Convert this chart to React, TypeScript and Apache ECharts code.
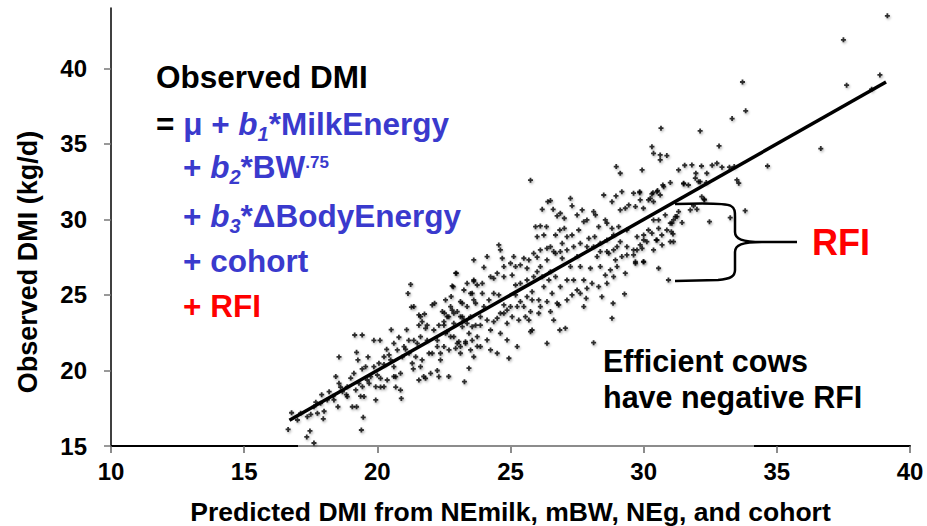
import React, { useEffect, useRef } from 'react';
import * as echarts from 'echarts';

const FONT = '"Liberation Sans", Arial, Helvetica, sans-serif';
const BLUE = '#3a3acd';
const RED = '#ff0000';

const xTicks = [10, 15, 20, 25, 30, 35, 40];
const yTicks = [15, 20, 25, 30, 35, 40];
const xAxisName = 'Predicted DMI from NEmilk, mBW, NEg, and cohort';
const yAxisName = 'Observed DMI (kg/d)';

// regression line (predicted = observed)
const fitLine = [[16.7, 16.7], [39.1, 39.1]];

const outliers = [
  [39.15, 43.48], [37.5, 41.89], [37.62, 38.89], [38.87, 39.57], [38.56, 38.62], [33.71, 39.1],
  [33.83, 37.19], [33.32, 36.68], [30.65, 36.04], [32.12, 35.86], [32.83, 34.87], [36.65, 34.69],
  [34.65, 33.54], [25.75, 32.6], [33.25, 30.12], [33.81, 30.58], [32.47, 29.85],
];

const upperCloud = [
  [30.31, 34.82], [30.37, 34.38], [30.62, 34.27], [30.87, 34.23], [30.62, 33.94], [31.31, 33.28],
  [29.94, 33.28], [28.97, 33.5], [29.12, 33.06], [31.54, 33.59], [31.81, 33.61], [32.17, 33.54],
  [31.96, 33.06], [32.37, 33.06], [32.57, 33.59], [32.75, 33.72], [32.94, 33.46], [33.22, 33.46],
  [33.4, 33.5], [31.94, 32.73], [32.06, 32.5], [32.35, 32.44], [33.5, 32.62], [33.57, 32.4],
  [32.18, 31.51], [32.27, 31.34], [31.5, 32.4], [31.68, 32.28], [31.0, 32.44], [30.72, 32.28],
  [30.75, 32.17], [30.52, 31.91], [30.35, 31.77], [30.5, 31.84], [30.31, 31.69], [30.18, 31.29],
  [29.85, 31.84], [29.62, 31.74], [29.85, 31.77], [29.18, 31.84], [28.96, 31.56], [28.5, 31.62],
  [28.81, 31.18], [27.25, 31.4], [26.5, 31.25], [26.4, 31.18], [26.19, 30.67], [26.6, 30.67],
  [26.75, 30.23], [27.02, 30.08], [27.31, 30.9], [27.5, 30.3], [27.69, 30.63], [28.12, 30.52],
  [28.19, 30.3], [29.12, 30.63], [29.31, 30.74], [29.44, 30.96], [29.69, 30.85], [29.87, 31.29],
  [29.99, 30.74], [30.25, 31.4], [30.37, 31.18], [30.62, 31.62], [31.5, 32.35], [32.12, 32.5],
  [32.28, 31.29], [31.87, 30.9], [31.75, 30.63], [32.0, 30.67], [31.31, 30.52], [31.19, 30.19],
  [31.44, 29.79], [31.06, 29.75], [30.81, 30.3], [30.56, 29.97], [31.25, 30.19], [31.12, 29.97],
  [31.0, 29.75], [26.87, 30.41], [27.87, 29.97],
];

const middleCloud = [
  [26.12, 29.57], [26.35, 29.52], [25.94, 29.52], [26.0, 28.86], [26.25, 28.97], [26.5, 28.2],
  [26.69, 28.97], [26.85, 29.3], [27.02, 29.41], [27.12, 28.86], [27.31, 28.97], [27.56, 29.3],
  [27.75, 29.85], [27.94, 28.75], [28.16, 28.86], [28.31, 29.52], [28.56, 29.97], [28.62, 29.75],
  [28.81, 29.41], [29.06, 29.52], [29.37, 29.3], [29.75, 28.86], [30.0, 28.97], [30.18, 29.3],
  [30.37, 29.97], [30.56, 29.41], [30.68, 28.97], [30.87, 29.3], [30.12, 28.53], [29.87, 28.31],
  [29.62, 27.98], [29.37, 27.65], [29.18, 27.54], [29.99, 27.2], [30.56, 26.77], [30.93, 25.99],
  [29.28, 25.07], [28.85, 24.45], [28.81, 23.46], [28.12, 21.84], [27.06, 22.8], [26.85, 22.68],
  [26.37, 21.8], [25.81, 22.68], [25.25, 21.58], [24.94, 20.81], [24.62, 27.98], [24.56, 28.31],
  [24.12, 27.54], [24.0, 26.83], [24.69, 27.43], [22.97, 26.44], [22.81, 25.6], [25.19, 26.88],
  [25.37, 26.99], [25.5, 27.43], [25.69, 27.32], [26.0, 27.5], [26.12, 26.88], [26.37, 27.32],
  [26.69, 27.76], [26.87, 27.87], [26.94, 27.43], [27.25, 26.88], [27.5, 27.54], [27.62, 26.88],
  [27.75, 25.99], [28.0, 26.77], [28.25, 27.54], [28.37, 26.88], [28.56, 26.32], [28.62, 25.77],
  [28.43, 24.89], [27.84, 24.78], [27.5, 25.33], [27.37, 25.99], [27.12, 25.99], [26.87, 25.55],
  [26.75, 24.45], [26.56, 25.11], [26.25, 25.55], [26.06, 24.67], [25.75, 23.9], [25.81, 24.67],
  [25.5, 24.23], [25.56, 23.56], [25.31, 23.34], [25.06, 23.56], [24.87, 23.12], [25.0, 24.23],
  [24.75, 24.34], [24.62, 23.79], [24.37, 23.23], [24.25, 22.68], [23.87, 23.56], [24.0, 24.23],
  [23.69, 24.45], [23.56, 25.11], [23.37, 25.77], [23.25, 25.33], [23.12, 24.56], [23.0, 23.9],
  [22.75, 24.23], [22.62, 23.56], [22.87, 23.12], [23.19, 22.9], [23.44, 22.46], [23.75, 22.24],
  [23.31, 21.8], [22.94, 21.47], [23.87, 21.58], [24.12, 22.02], [24.62, 22.46], [24.87, 22.02],
  [24.5, 21.14], [26.37, 24.56], [26.62, 23.34], [27.75, 24.23], [28.31, 25.55], [29.31, 26.44],
  [29.0, 26.88], [29.69, 27.1], [29.37, 28.2], [30.37, 27.98], [30.5, 28.64], [31.12, 28.53],
  [31.04, 29.19], [31.1, 29.04], [31.0, 28.53], [30.69, 28.31], [30.47, 28.64], [30.31, 29.09],
  [30.0, 28.64], [29.94, 28.09], [29.75, 27.98], [29.62, 27.65], [29.69, 27.2], [30.0, 27.2],
  [28.94, 27.32], [28.62, 27.87], [28.75, 26.66], [28.87, 26.21],
  [22.56, 24.67], [22.44, 23.9], [22.5, 23.0], [22.56, 22.46], [22.75, 22.24], [22.5, 21.58],
  [22.69, 21.36], [23.06, 21.91], [23.5, 21.36], [23.62, 20.91], [23.12, 21.14], [24.25, 21.36],
  [23.62, 25.99], [23.75, 25.66], [23.94, 25.77], [24.25, 26.21], [24.37, 26.1], [24.5, 26.44],
  [24.75, 26.21], [25.06, 26.32], [25.19, 25.66], [25.37, 25.77], [25.62, 25.99], [25.87, 26.21],
  [26.0, 26.54], [26.19, 26.21], [26.44, 25.99], [26.5, 26.54], [26.69, 26.21], [24.37, 25.11],
  [24.19, 24.67], [24.56, 25.0], [23.94, 25.11], [23.62, 24.67], [23.37, 24.23], [23.12, 23.56],
  [22.87, 23.79], [23.25, 23.34], [23.5, 23.56], [23.87, 23.0], [24.12, 23.34], [24.5, 23.46],
  [24.75, 23.79], [24.87, 24.0], [25.25, 24.23], [25.62, 24.89], [25.81, 25.22], [25.37, 24.56],
  [25.19, 25.0], [25.69, 23.34], [25.75, 22.57], [26.06, 23.79], [26.12, 24.23], [26.5, 23.9],
  [26.81, 24.34], [27.12, 24.67], [27.31, 25.0], [27.62, 25.11], [27.87, 25.44], [28.06, 25.77],
  [23.62, 27.32], [24.75, 26.88], [25.0, 27.1], [25.12, 27.54], [25.62, 26.77], [25.87, 27.76],
  [26.12, 27.98], [26.37, 28.09], [26.62, 27.87], [26.94, 28.42], [27.12, 27.98], [27.37, 28.2],
  [27.62, 28.42], [27.87, 28.2], [28.12, 28.2], [28.37, 28.42], [28.62, 28.64], [28.87, 28.97],
  [28.37, 27.87], [28.69, 27.76], [28.87, 27.98], [29.0, 28.2], [29.12, 28.53],
];

const lowerCloud = [
  [16.65, 16.1], [17.62, 15.2], [17.35, 15.6], [17.47, 16.0], [16.78, 17.2], [17.5, 17.1],
  [17.97, 16.8], [17.69, 17.9], [17.91, 18.4], [18.0, 17.3], [18.34, 18.3], [18.52, 17.6],
  [18.56, 20.9], [18.44, 19.6], [18.62, 18.9], [18.84, 18.4], [19.0, 19.5], [19.06, 17.6],
  [19.15, 22.35], [19.22, 21.2], [19.27, 20.7], [19.43, 22.35], [19.43, 20.1], [19.47, 16.9],
  [19.4, 16.06], [19.22, 17.6], [19.65, 20.9], [19.37, 18.3], [19.31, 19.15], [19.94, 18.05],
  [19.87, 22.0], [20.1, 22.0], [19.69, 19.15], [20.0, 19.7], [20.12, 18.9], [20.25, 20.4],
  [20.35, 21.4], [20.52, 22.7], [20.62, 19.6], [20.69, 18.9], [20.81, 22.2], [20.9, 18.15],
  [20.87, 18.7], [20.94, 20.9], [21.06, 21.4], [21.1, 22.7], [21.15, 25.1], [21.25, 25.7],
  [21.18, 22.0], [21.28, 24.2], [21.35, 20.1], [21.5, 21.8], [21.56, 23.0], [21.68, 20.7],
  [21.74, 19.6], [21.62, 23.56], [21.77, 23.74], [21.87, 23.0], [21.94, 21.14], [22.06, 24.34],
  [22.15, 24.45], [22.25, 22.0], [22.25, 20.0], [22.37, 21.14], [22.52, 23.8], [22.62, 22.57],
  [22.68, 19.6], [22.77, 24.9], [22.85, 25.55], [22.94, 26.44], [23.0, 21.8], [23.19, 24.45],
  [23.27, 19.26], [23.44, 20.15], [23.5, 25.1], [23.62, 25.9], [23.56, 22.0], [23.69, 23.0],
  [23.75, 21.6], [21.37, 24.23], [21.56, 23.68], [21.68, 23.23], [21.81, 22.79], [22.12, 22.68],
  [22.31, 23.0], [22.5, 23.23], [22.68, 23.56], [22.81, 24.0], [23.19, 23.56], [23.37, 23.12],
  [23.56, 22.9], [22.87, 22.24], [23.12, 21.58], [23.31, 21.91], [22.25, 21.58], [22.37, 20.7],
  [22.06, 21.14], [21.87, 22.0], [21.62, 22.24], [21.37, 22.0], [21.19, 21.14], [21.44, 20.91],
  [21.31, 20.48], [21.62, 20.25], [21.56, 19.37], [21.81, 19.48], [22.0, 19.81], [22.31, 19.59],
  [20.87, 19.81], [20.62, 20.25], [20.5, 20.7], [20.69, 19.59], [20.37, 19.37], [20.12, 19.48],
  [20.25, 18.93], [19.94, 18.93], [19.75, 19.59], [19.56, 20.25], [19.87, 20.25], [20.06, 20.48],
  [20.25, 20.91], [20.44, 21.03], [20.75, 21.36], [20.62, 21.8], [21.0, 21.58], [19.12, 19.81],
  [18.87, 18.93], [18.69, 18.6], [18.37, 18.05], [18.12, 18.05], [17.87, 17.83], [17.62, 17.6],
  [17.12, 17.17], [17.0, 16.72], [17.37, 16.94], [17.75, 17.17], [18.19, 18.6], [18.56, 19.15],
  [18.87, 18.27], [19.19, 18.71], [19.44, 18.93], [19.62, 19.37], [19.5, 18.27],
];

const BRACE_D =
  'M675,204 C705,203 726,203 731,206 C735,208 735,212 735,217 L735,232 C735,239 742,242 762,242 L797,242 ' +
  'M762,242 C742,242 735,245 735,252 L735,270 C735,276 731,279 718,280 L675,281';
echarts.graphic.registerShape('rfiBrace', echarts.graphic.extendPath(BRACE_D, {}) as any);

let measureCtx: CanvasRenderingContext2D | null = null;
function textWidth(t: string, size: number, italic: boolean) {
  if (!measureCtx) measureCtx = document.createElement('canvas').getContext('2d');
  if (!measureCtx) return t.length * size * 0.6;
  measureCtx.font = `${italic ? 'italic ' : ''}bold ${size}px ${FONT}`;
  return measureCtx.measureText(t).width;
}

type Seg = { t: string; size?: number; color?: string; italic?: boolean; dy?: number };

function lineElements(x0: number, baseline: number, segs: Seg[], defSize: number) {
  const els: any[] = [];
  let x = x0;
  for (const s of segs) {
    const size = s.size ?? defSize;
    const italic = !!s.italic;
    els.push({
      type: 'text',
      z: 20,
      style: {
        text: s.t,
        x,
        y: baseline + (s.dy ?? 0) - 0.347 * size,
        fill: s.color ?? '#000',
        fontSize: size,
        fontWeight: 'bold',
        fontStyle: italic ? 'italic' : 'normal',
        fontFamily: FONT,
        align: 'left',
        verticalAlign: 'middle',
      },
    });
    x += textWidth(s.t, size, italic);
  }
  return els;
}

export default function App() {
  const ref = useRef<HTMLDivElement>(null);
  useEffect(() => {
    if (!ref.current) return;
    const chart = echarts.init(ref.current, null, { renderer: 'svg' });
    const S = 31.5;
    const graphics: any[] = [
      {
        type: 'line',
        z: 1,
        shape: { x1: 298, y1: 446, x2: 754, y2: 446 },
        style: { stroke: '#8c8c8c', lineWidth: 2 },
      },
      ...lineElements(156, 88, [{ t: 'Observed DMI' }], S),
      ...lineElements(156, 135, [
        { t: '= ' },
        { t: 'μ + ', color: BLUE },
        { t: 'b', color: BLUE, italic: true },
        { t: '1', color: BLUE, italic: true, size: 20, dy: 6 },
        { t: '*MilkEnergy', color: BLUE },
      ], S),
      ...lineElements(183, 178, [
        { t: '+ ', color: BLUE },
        { t: 'b', color: BLUE, italic: true },
        { t: '2', color: BLUE, italic: true, size: 20, dy: 6 },
        { t: '*BW', color: BLUE },
        { t: '.75', color: BLUE, size: 17, dy: -10 },
      ], S),
      ...lineElements(183, 227, [
        { t: '+ ', color: BLUE },
        { t: 'b', color: BLUE, italic: true },
        { t: '3', color: BLUE, italic: true, size: 20, dy: 6 },
        { t: '*ΔBodyEnergy', color: BLUE },
      ], S),
      ...lineElements(183, 272, [{ t: '+ cohort', color: BLUE }], S),
      ...lineElements(183, 317, [{ t: '+ RFI', color: RED }], S),
      ...lineElements(603, 372, [{ t: 'Efficient cows' }], 30.5),
      ...lineElements(603, 408, [{ t: 'have negative RFI' }], 30.5),
      ...lineElements(812, 255, [{ t: 'RFI', color: RED }], 36),
      {
        type: 'rfiBrace',
        z: 15,
        x: 0,
        y: 0,
        style: { stroke: '#000', lineWidth: 2.5, fill: 'none' },
      },
    ];

    const pointStyle = {
      color: '#000',
      shadowBlur: 2,
      shadowColor: 'rgba(0,0,0,0.35)',
      shadowOffsetX: 1,
      shadowOffsetY: 1.5,
    };
    const plus = 'path://M1.6,0H3.4V1.6H5V3.4H3.4V5H1.6V3.4H0V1.6H1.6Z';
    const scatter = (name: string, data: number[][]) => ({
      name,
      type: 'scatter',
      data,
      symbol: plus,
      symbolSize: 5,
      itemStyle: pointStyle,
      z: 3,
      silent: true,
    });

    chart.setOption({
      animation: false,
      backgroundColor: '#fff',
      textStyle: { fontFamily: FONT },
      grid: { left: 111, right: 17, top: 8, bottom: 80, containLabel: false, outerBoundsMode: 'none' },
      xAxis: {
        type: 'value',
        min: xTicks[0],
        max: xTicks[xTicks.length - 1],
        interval: 5,
        splitLine: { show: false },
        axisLine: { lineStyle: { color: '#000', width: 2 } },
        axisTick: { length: 7, lineStyle: { color: '#666', width: 1.5 } },
        axisLabel: { fontSize: 24, fontWeight: 'bold', color: '#000', margin: 13, fontFamily: FONT },
        name: xAxisName,
        nameLocation: 'middle',
        nameGap: 52,
        nameTextStyle: { fontSize: 26.5, fontWeight: 'bold', color: '#000', fontFamily: FONT },
      },
      yAxis: {
        type: 'value',
        min: 15,
        max: 44,
        interval: 5,
        splitLine: { show: false },
        axisLine: { lineStyle: { color: '#000', width: 1.5 } },
        axisTick: { length: 7, lineStyle: { color: '#777', width: 1.5 }, customValues: yTicks },
        axisLabel: {
          fontSize: 24, fontWeight: 'bold', color: '#000', margin: 24, fontFamily: FONT,
          customValues: yTicks,
        },
        name: yAxisName,
        nameLocation: 'middle',
        nameGap: 70,
        nameTextStyle: {
          fontSize: 27, fontWeight: 'bold', color: '#000', fontFamily: FONT,
          padding: [0, 70, 0, 0],
        },
      },
      series: [
        scatter('lower', lowerCloud),
        scatter('middle', middleCloud),
        scatter('upper', upperCloud),
        scatter('outliers', outliers),
        {
          name: 'fit',
          type: 'line',
          data: fitLine,
          symbol: 'none',
          lineStyle: { color: '#000', width: 3.5 },
          z: 4,
          silent: true,
        },
      ],
      graphic: graphics,
    });
    return () => chart.dispose();
  }, []);
  return <div ref={ref} style={{ position: 'fixed', left: 0, top: 0, width: 927, height: 526 }} />;
}
